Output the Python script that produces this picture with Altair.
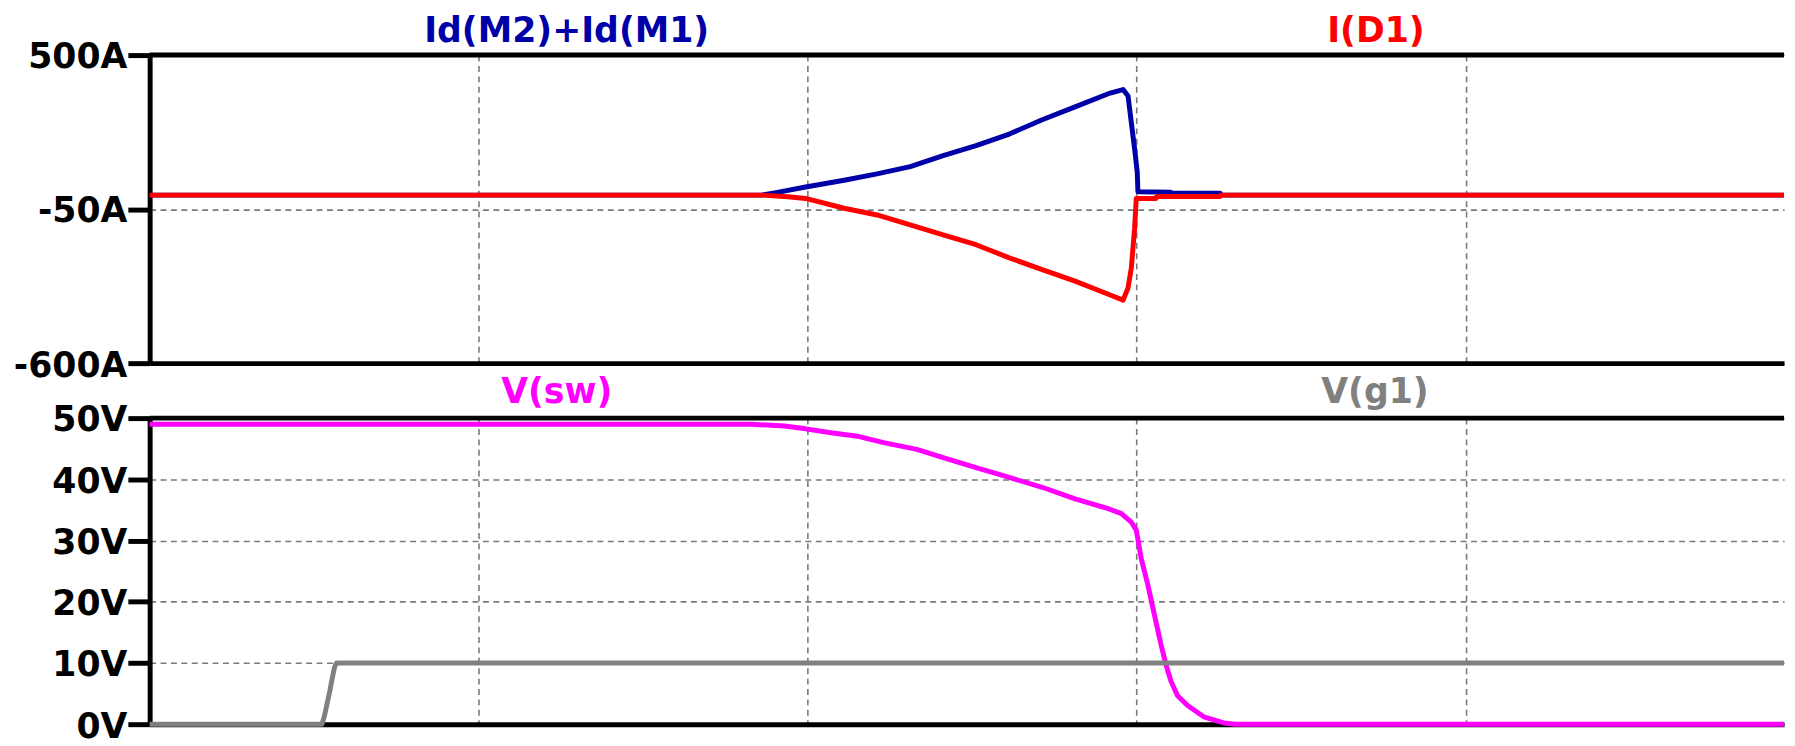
import altair as alt
import pandas as pd

# ---------------- data (time in grid divisions) ----------------
X_MAX = 4.968
x_grid = [1, 2, 3, 4]

# Top pane: Id(M2)+Id(M1)  [A]
id_t = [0, 1.86, 1.90, 1.994, 2.111, 2.211, 2.312, 2.412, 2.512, 2.613, 2.713, 2.813,
        2.914, 2.959, 2.974, 2.984, 2.994, 3.002, 3.004, 3.104, 3.106, 3.254, 3.256, X_MAX]
id_v = [0, 0, 8, 29, 53, 76, 102, 141, 177, 218, 269, 315,
        362, 377, 354, 259, 165, 82, 12, 10, 7, 7, 0, 0]

# Top pane: I(D1)  [A]
d1_t = [0, 1.86, 1.94, 1.994, 2.111, 2.211, 2.312, 2.412, 2.512, 2.613, 2.713, 2.813,
        2.914, 2.959, 2.974, 2.984, 2.994, 2.999, 3.004, 3.059, 3.061, 3.254, 3.256, X_MAX]
d1_v = [0, 0, -6, -12, -47, -71, -106, -142, -177, -224, -266, -307,
        -354, -375, -331, -260, -118, -12, -12, -12, -5, -5, 0, 0]

# Bottom pane: V(sw)  [V]
sw_t = [0, 1.83, 1.93, 1.994, 2.071, 2.151, 2.231, 2.332, 2.412, 2.512, 2.613, 2.713,
        2.813, 2.914, 2.954, 2.984, 2.999, 3.014, 3.034, 3.054, 3.074, 3.089, 3.104,
        3.124, 3.154, 3.204, 3.265, 3.30, X_MAX]
sw_v = [49, 49, 48.7, 48.25, 47.6, 47.05, 46.0, 44.9, 43.55, 41.9, 40.3, 38.7,
        36.8, 35.2, 34.4, 33.0, 31.7, 27.1, 22.8, 17.9, 13.05, 9.8, 7.1,
        4.7, 3.1, 1.2, 0.2, 0, 0]

# Bottom pane: V(g1)  [V]
g1_t = [0, 0.524, 0.532, 0.540, 0.548, 0.555, 0.562, 0.568, X_MAX]
g1_v = [0, 0, 1.5, 3.5, 5.5, 7.5, 9.3, 10, 10]

top_ticks = [-600, -50, 500]
bot_ticks = [0, 10, 20, 30, 40, 50]
names_top = ["Id(M2)+Id(M1)", "I(D1)"]
names_bot = ["V(sw)", "V(g1)"]

BLUE = "#0000A8"
RED = "#FF0000"
MAGENTA = "#FF00FF"
GRAY = "#808080"

# ---------------- layout ----------------
W = 1650
H1 = 311
H2 = 309
FONT = "DejaVu Sans"
FS = 35
LW = 5
FW = 5

grid_style = dict(grid=True, gridColor="#7a7a7a", gridDash=[6, 4.5], gridWidth=1.6)

x_axis = alt.Axis(values=x_grid, labels=False, ticks=False, domain=True,
                  domainColor="black", domainWidth=FW, title=None, zindex=0,
                  **grid_style)
x_scale = alt.Scale(domain=[0, X_MAX], nice=False, zero=False)


def y_axis(values, unit):
    return alt.Axis(values=values, labelExpr="datum.value + '" + unit + "'",
                    domainColor="black", domainWidth=FW, tickColor="black",
                    tickWidth=FW, tickSize=22, labelPadding=1, labelOffset=2,
                    labelFont=FONT, labelFontSize=FS, labelFontWeight="bold",
                    labelColor="black", title=None, zindex=0, **grid_style)


def line(ts, vs, color, yscale, yaxis):
    df = pd.DataFrame({"t": ts, "v": vs})
    return alt.Chart(df).mark_line(color=color, strokeWidth=LW, strokeJoin="round").encode(
        x=alt.X("t:Q", scale=x_scale, axis=x_axis),
        y=alt.Y("v:Q", scale=yscale, axis=yaxis),
    )


def label(name, color, px, py):
    return alt.Chart(pd.DataFrame({"name": [name]})).mark_text(
        font=FONT, fontSize=FS, fontWeight="bold", color=color,
        align="center", baseline="alphabetic"
    ).encode(text="name:N", x=alt.value(px), y=alt.value(py))


def top_border():
    return alt.Chart(pd.DataFrame({"k": [0]})).mark_rule(
        color="black", strokeWidth=FW
    ).encode(x=alt.value(0), x2=alt.value(W), y=alt.value(0))


ys_top = alt.Scale(domain=[-600, 500], nice=False, zero=False)
ya_top = y_axis(top_ticks, "A")
ys_bot = alt.Scale(domain=[0, 50], nice=False, zero=False)
ya_bot = y_axis(bot_ticks, "V")

top = alt.layer(
    top_border(),
    line(id_t, id_v, BLUE, ys_top, ya_top),
    line(d1_t, d1_v, RED, ys_top, ya_top),
    label(names_top[0], BLUE, 421, -13),
    label(names_top[1], RED, 1238, -13),
).properties(width=W, height=H1)

bottom = alt.layer(
    top_border(),
    line(sw_t, sw_v, MAGENTA, ys_bot, ya_bot),
    line(g1_t, g1_v, GRAY, ys_bot, ya_bot),
    label(names_bot[0], MAGENTA, 411, -15),
    label(names_bot[1], GRAY, 1237, -15),
).properties(width=W, height=H2)

chart = alt.vconcat(top, bottom, spacing=55.5, bounds="flush").properties(
    padding={"left": 5, "top": 3, "right": 0, "bottom": 0},
    background="white",
).configure_view(stroke=None)

chart.save("out.html", embed_options={"renderer": "svg", "actions": False})
